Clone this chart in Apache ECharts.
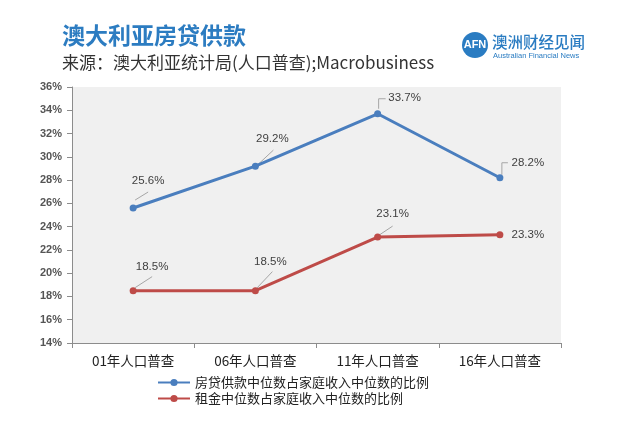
<!DOCTYPE html>
<html><head><meta charset="utf-8">
<script src="https://cdn.jsdelivr.net/npm/echarts@6/dist/echarts.min.js"></script>
<style>html,body{margin:0;padding:0;background:#fff}#c{width:640px;height:437px}</style>
</head><body><div id="c"></div>
<script>
var categories = ['01年人口普查', '06年人口普查', '11年人口普查', '16年人口普查'];
var mortgageShare = [25.6, 29.2, 33.7, 28.2];
var rentShare = [18.5, 18.5, 23.1, 23.3];
var seriesNames = ['房贷供款中位数占家庭收入中位数的比例', '租金中位数占家庭收入中位数的比例'];
var yTicks = { min: 14, max: 36, step: 2 };

// label placement (pixel offsets from point) and leader-line shapes
var blueLabelOff = [[15, -27], [17, -27], [27, -16], [28, -15]];
var redLabelOff = [[19, -24], [15, -29], [15, -23], [28, 0]];
var blueLeader = [[[2, -8], [15, -16]], [[3, -2], [18, -16]], [[1, -5], [1, -15], [8, -15]], [[2, -3], [2, -15], [8, -15]]];
var redLeader = [[[2, -3], [19, -14]], [[1, -2], [17, -19]], [[0, -1], [15, -11]], null];

var BLUE = '#4a7ebe', RED = '#be4b48';

function mkData(vals, offs) {
  return vals.map(function (v, i) {
    return { value: v, label: { offset: offs[i] } };
  });
}
function leaderSeries(vals, shapes) {
  return {
    type: 'custom', silent: true, z: 1, legendHoverLink: false,
    data: vals.map(function (v, i) { return [i, v]; }),
    renderItem: function (params, api) {
      var s = shapes[params.dataIndex];
      if (!s) return null;
      var p = api.coord([api.value(0), api.value(1)]);
      return {
        type: 'polyline',
        shape: { points: s.map(function (o) { return [p[0] + o[0], p[1] + o[1]]; }) },
        style: { stroke: '#a6a6a6', lineWidth: 1, fill: null }
      };
    }
  };
}

var chart = echarts.init(document.getElementById('c'), null, { renderer: 'canvas' });
chart.setOption({
  animation: false,
  title: [
    { text: '澳大利亚房贷供款', left: 57, top: 19, textStyle: { fontSize: 23, fontWeight: 'bold', color: '#2c7cc1', fontFamily: 'Noto Sans CJK SC' } },
    { text: '来源：澳大利亚统计局(人口普查);Macrobusiness', left: 57, top: 49, textStyle: { fontSize: 17, fontWeight: 'normal', color: '#333', fontFamily: 'Noto Sans CJK SC' } }
  ],
  graphic: [
    { type: 'circle', shape: { cx: 475, cy: 45, r: 13 }, style: { fill: '#2a7cc2' } },
    { type: 'text', x: 475, y: 45, style: { text: 'AFN', fill: '#fff', font: 'bold 11px "Liberation Sans"', align: 'center', verticalAlign: 'middle' } },
    { type: 'text', x: 492, y: 42, style: { text: '澳洲财经见闻', fill: '#2a7cc2', font: '500 15.5px "Noto Sans CJK SC"', verticalAlign: 'middle' } },
    { type: 'text', x: 493, y: 56, style: { text: 'Australian Financial News', fill: '#2a7cc2', font: '7.5px "Liberation Sans"', verticalAlign: 'middle' } }
  ],
  grid: { left: 72, right: 79, top: 87, bottom: 94, show: true, backgroundColor: '#f0f0f0', borderWidth: 0 },
  legend: {
    orient: 'vertical', left: 152, top: 371, itemWidth: 32, itemHeight: 9, itemGap: 3,
    data: seriesNames,
    textStyle: { fontSize: 13, color: '#222', fontFamily: 'Noto Sans CJK SC' }
  },
  xAxis: {
    type: 'category', data: categories, boundaryGap: true,
    axisLine: { lineStyle: { color: '#8c8c8c', width: 1 } },
    axisTick: { show: true, length: 5, lineStyle: { color: '#8c8c8c' } },
    axisLabel: { color: '#222', fontSize: 13.5, margin: 11, fontFamily: 'Noto Sans CJK SC' }
  },
  yAxis: {
    type: 'value', min: yTicks.min, max: yTicks.max, interval: yTicks.step,
    axisLine: { show: true, lineStyle: { color: '#8c8c8c', width: 1 } },
    axisTick: { show: true, length: 5, lineStyle: { color: '#8c8c8c' } },
    splitLine: { show: false },
    axisLabel: { formatter: '{value}%', color: '#555', fontSize: 11, fontWeight: 'bold', margin: 10, fontFamily: 'Liberation Sans' }
  },
  series: [
    {
      name: seriesNames[0], type: 'line', data: mkData(mortgageShare, blueLabelOff), z: 3,
      symbol: 'circle', symbolSize: 7, lineStyle: { color: BLUE, width: 3 }, itemStyle: { color: BLUE },
      label: { show: true, position: 'inside', formatter: '{c}%', color: '#404040', fontSize: 11.5, fontFamily: 'Liberation Sans' }
    },
    {
      name: seriesNames[1], type: 'line', data: mkData(rentShare, redLabelOff), z: 3,
      symbol: 'circle', symbolSize: 7, lineStyle: { color: RED, width: 3 }, itemStyle: { color: RED },
      label: { show: true, position: 'inside', formatter: '{c}%', color: '#404040', fontSize: 11.5, fontFamily: 'Liberation Sans' }
    },
    leaderSeries(mortgageShare, blueLeader),
    leaderSeries(rentShare, redLeader)
  ]
});
</script></body></html>
